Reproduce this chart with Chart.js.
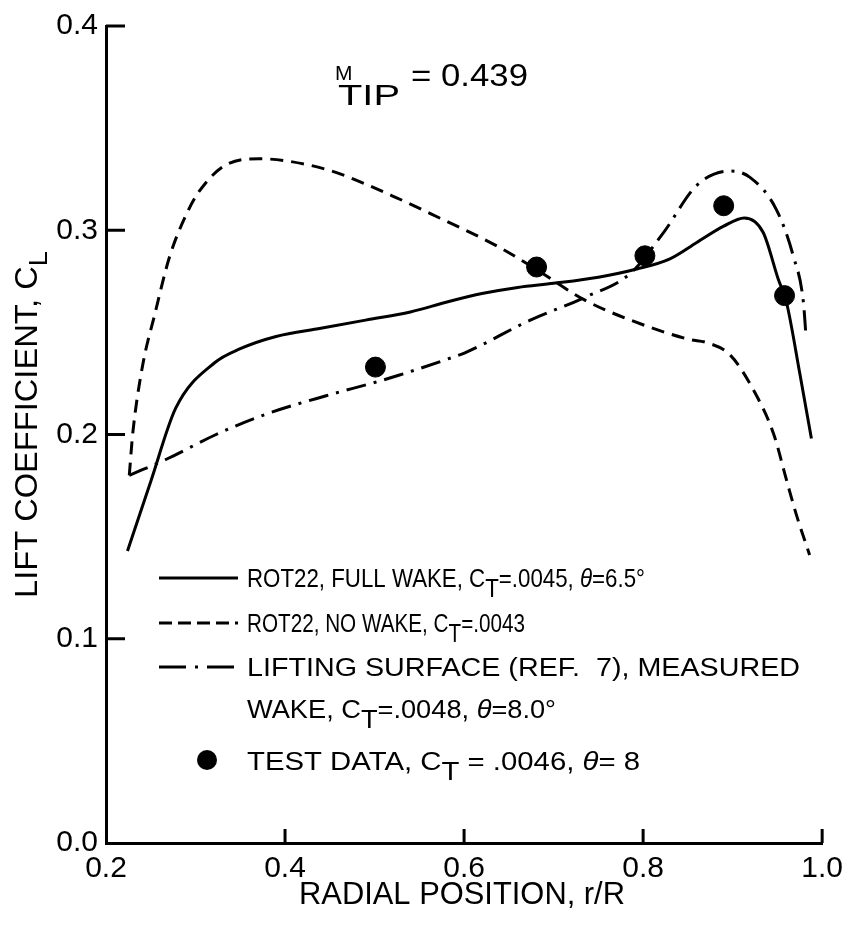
<!DOCTYPE html>
<html>
<head>
<meta charset="utf-8">
<script src="https://cdn.jsdelivr.net/npm/chart.js@4.4.1/dist/chart.umd.min.js"></script>
<style>
  html, body { margin: 0; padding: 0; background: #fff; }
  #wrap { width: 851px; height: 925px; }
</style>
</head>
<body>
<div id="wrap"><canvas id="liftChart"></canvas></div>
<script>
// radial position r/R and lift coefficient C_L
const radialFull = [0.224, 0.25, 0.278, 0.321, 0.35, 0.39, 0.44, 0.49, 0.54, 0.582, 0.62, 0.66, 0.70, 0.75, 0.793, 0.83, 0.86, 0.89, 0.913, 0.934, 0.951, 0.96, 0.975, 0.988];
const clFull     = [0.143, 0.177, 0.213, 0.235, 0.242, 0.248, 0.252, 0.256, 0.260, 0.265, 0.269, 0.272, 0.274, 0.277, 0.281, 0.286, 0.294, 0.302, 0.306, 0.299, 0.276, 0.265, 0.230, 0.198];

const radialNoWake = [0.226, 0.23, 0.241, 0.254, 0.271, 0.29, 0.304, 0.334, 0.371, 0.401, 0.452, 0.519, 0.563, 0.638, 0.68, 0.734, 0.786, 0.852, 0.871, 0.897, 0.923, 0.946, 0.96, 0.971, 0.986];
const clNoWake     = [0.180, 0.201, 0.234, 0.258, 0.287, 0.308, 0.319, 0.332, 0.335, 0.334, 0.329, 0.317, 0.308, 0.292, 0.281, 0.266, 0.256, 0.2465, 0.245, 0.239, 0.222, 0.200, 0.178, 0.161, 0.141];

const radialLift = [0.226, 0.268, 0.323, 0.379, 0.446, 0.501, 0.527, 0.582, 0.601, 0.674, 0.734, 0.786, 0.823, 0.86, 0.897, 0.919, 0.949, 0.968, 0.979, 0.982];
const clLift     = [0.180, 0.188, 0.200, 0.210, 0.219, 0.2256, 0.229, 0.237, 0.240, 0.256, 0.267, 0.279, 0.299, 0.322, 0.329, 0.326, 0.310, 0.287, 0.265, 0.248];

const radialTest = [0.501, 0.681, 0.802, 0.890, 0.958];
const clTest     = [0.233, 0.282, 0.2875, 0.312, 0.268];

const xTicks = [0.2, 0.4, 0.6, 0.8, 1.0];
const yTicks = [0.0, 0.1, 0.2, 0.3, 0.4];

const FONT = '"Liberation Sans", Arial, sans-serif';

function pts(xs, ys) { return xs.map((x, i) => ({ x: x, y: ys[i] })); }

// text with sub/superscript pieces, squeezed to a target width
function drawRich(ctx, x, y, segs, targetW) {
  ctx.save();
  let w = 0;
  segs.forEach(s => { ctx.font = s.font; w += ctx.measureText(s.t).width; });
  const k = targetW ? targetW / w : 1;
  ctx.translate(x, y);
  ctx.scale(k, 1);
  ctx.textBaseline = 'alphabetic';
  ctx.textAlign = 'left';
  ctx.fillStyle = '#000';
  let cx = 0;
  segs.forEach(s => {
    ctx.font = s.font;
    ctx.fillText(s.t, cx, s.dy || 0);
    cx += ctx.measureText(s.t).width;
  });
  ctx.restore();
}

const extras = {
  id: 'extras',
  afterDraw(chart) {
    const ctx = chart.ctx;
    const xs = chart.scales.x, ys = chart.scales.y;
    const area = chart.chartArea;
    ctx.save();
    ctx.strokeStyle = '#000';
    ctx.lineWidth = 3;
    ctx.lineCap = 'butt';
    // inward tick marks
    yTicks.slice(1).forEach(v => {
      const py = ys.getPixelForValue(v);
      ctx.beginPath(); ctx.moveTo(area.left, py); ctx.lineTo(area.left + 19, py); ctx.stroke();
    });
    xTicks.slice(1).forEach(v => {
      const px = xs.getPixelForValue(v);
      ctx.beginPath(); ctx.moveTo(px, area.bottom); ctx.lineTo(px, area.bottom - 14); ctx.stroke();
    });

    // M_TIP annotation
    const f = (sz, st) => (st || '') + ' ' + sz + 'px ' + FONT;
    drawRich(ctx, 335, 80, [{ t: 'M', font: f(21) }], 0);
    drawRich(ctx, 338, 105, [{ t: 'TIP', font: f(29) }], 62);
    drawRich(ctx, 411, 86, [{ t: '= 0.439', font: f(31) }], 117);

    // axis titles
    drawRich(ctx, 299, 904, [{ t: 'RADIAL POSITION, r/R', font: f(31) }], 326);
    ctx.save();
    ctx.translate(37, 598);
    ctx.rotate(-Math.PI / 2);
    drawRich(ctx, 0, 0, [{ t: 'LIFT COEFFICIENT, C', font: f(31) }, { t: 'L', font: f(26), dy: 10 }], 347);
    ctx.restore();

    // legend
    const lf = f(25), it = f(25, 'italic');
    const sampleL = 159, sampleR = 238, textX = 247;
    const rows = [
      { y: 578, dash: [], segs: [{ t: 'ROT22, FULL WAKE, C', font: lf }, { t: 'T', font: lf, dy: 10 }, { t: '=.0045, ', font: lf }, { t: 'θ', font: it }, { t: '=6.5°', font: lf }], w: 398 },
      { y: 623, dash: [13, 6], segs: [{ t: 'ROT22, NO WAKE, C', font: lf }, { t: 'T', font: lf, dy: 10 }, { t: '=.0043', font: lf }], w: 278 },
      { y: 667, dash: [27, 9, 3, 9], segs: [{ t: 'LIFTING SURFACE (REF.  7), MEASURED', font: lf }], w: 553 },
      { y: null, segs: [{ t: 'WAKE, C', font: lf }, { t: 'T', font: lf, dy: 10 }, { t: '=.0048, ', font: lf }, { t: 'θ', font: it }, { t: '=8.0°', font: lf }], w: 309, base: 718 },
      { y: null, dot: true, segs: [{ t: 'TEST DATA, C', font: lf }, { t: 'T', font: lf, dy: 10 }, { t: ' = .0046, ', font: lf }, { t: 'θ', font: it }, { t: '= 8', font: lf }], w: 393, base: 770 }
    ];
    rows.forEach(r => {
      if (r.y !== null) {
        ctx.save();
        ctx.setLineDash(r.dash);
        ctx.lineWidth = 3;
        ctx.beginPath(); ctx.moveTo(sampleL, r.y); ctx.lineTo(sampleR, r.y); ctx.stroke();
        ctx.restore();
      }
      if (r.dot) {
        ctx.beginPath(); ctx.arc(207, 760, 10, 0, Math.PI * 2); ctx.fillStyle = '#000'; ctx.fill();
      }
      drawRich(ctx, textX, r.base || r.y + 9, r.segs, r.w);
    });
    ctx.restore();
  }
};

new Chart(document.getElementById('liftChart'), {
  type: 'scatter',
  data: {
    datasets: [
      {
        label: 'ROT22, FULL WAKE',
        data: pts(radialFull, clFull),
        showLine: true,
        borderColor: '#000',
        borderWidth: 3,
        pointRadius: 0,
        cubicInterpolationMode: 'monotone',
        order: 2
      },
      {
        label: 'ROT22, NO WAKE',
        data: pts(radialNoWake, clNoWake),
        showLine: true,
        borderColor: '#000',
        borderWidth: 3,
        borderDash: [13, 8],
        pointRadius: 0,
        cubicInterpolationMode: 'monotone',
        order: 3
      },
      {
        label: 'LIFTING SURFACE',
        data: pts(radialLift, clLift),
        showLine: true,
        borderColor: '#000',
        borderWidth: 3,
        borderDash: [20, 8, 3, 8],
        pointRadius: 0,
        cubicInterpolationMode: 'monotone',
        order: 4
      },
      {
        label: 'TEST DATA',
        data: pts(radialTest, clTest),
        showLine: false,
        backgroundColor: '#000',
        borderColor: '#000',
        pointRadius: 10,
        order: 1
      }
    ]
  },
  options: {
    responsive: true,
    maintainAspectRatio: false,
    animation: false,
    devicePixelRatio: 1,
    layout: { padding: { top: 22, right: 25, left: 0, bottom: 0 } },
    plugins: { legend: { display: false }, tooltip: { enabled: false } },
    scales: {
      x: {
        type: 'linear',
        min: 0.2,
        max: 1.0,
        afterFit: s => { s.height = 82; },
        afterBuildTicks: s => { s.ticks = xTicks.map(v => ({ value: v })); },
        grid: { display: false, drawTicks: false },
        border: { display: true, color: '#000', width: 3 },
        ticks: {
          padding: 8,
          color: '#000',
          font: { family: FONT, size: 30 },
          callback: v => Number(v).toFixed(1)
        }
      },
      y: {
        type: 'linear',
        min: 0,
        max: 0.4,
        afterFit: s => { s.width = 106; },
        afterBuildTicks: s => { s.ticks = yTicks.map(v => ({ value: v })); },
        grid: { display: false, drawTicks: false },
        border: { display: true, color: '#000', width: 3 },
        ticks: {
          padding: 8,
          color: '#000',
          font: { family: FONT, size: 30 },
          callback: v => Number(v).toFixed(1)
        }
      }
    }
  },
  plugins: [extras]
});
</script>
</body>
</html>
